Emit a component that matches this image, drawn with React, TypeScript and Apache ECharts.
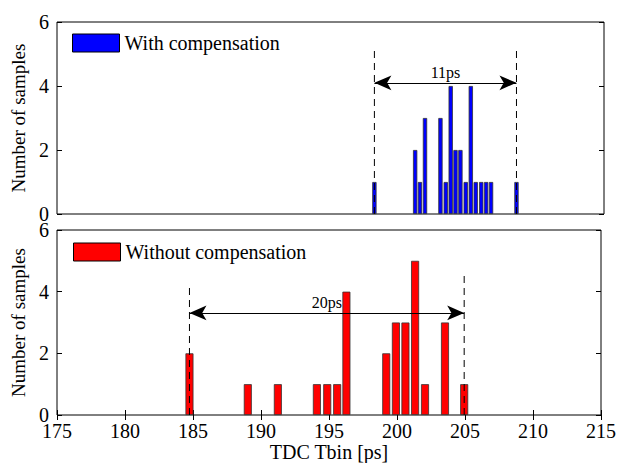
import React, { useEffect, useRef } from "react";
import * as echarts from "echarts";

// ---- Data ----
const topBinCenters = [198.21, 201.19, 201.54, 201.91, 203.04, 203.43, 203.79, 204.14, 204.5, 204.89, 205.26, 205.62, 206.02, 206.38, 206.74, 208.6];
const topCounts = [1, 2, 1, 3, 3, 1, 4, 2, 2, 1, 4, 1, 1, 1, 1, 1];

const bottomBinCenters = [184.74, 189.03, 191.24, 194.11, 194.87, 195.6, 196.28, 199.21, 199.92, 200.62, 201.33, 202.06, 203.53, 204.94];
const bottomCounts = [2, 1, 1, 1, 1, 1, 4, 2, 3, 3, 5, 1, 3, 1];

const topSpan = [198.21, 208.6];
const topDashTops = [5.2, 5.2];
const topArrowY = 4.1;
const topSpanLabel = "11ps";

const bottomSpan = [184.74, 204.94];
const bottomDashTops = [4.15, 4.64];
const bottomArrowY = 3.31;
const bottomSpanLabel = "20ps";

const xTicks = { min: 175, max: 215, interval: 5 };
const yTicks = { min: 0, max: 6, interval: 2 };

const topLegend = "With compensation";
const bottomLegend = "Without compensation";
const yName = "Number of samples";
const xName = "TDC Tbin [ps]";

const FONT = "'Liberation Serif', 'Times New Roman', serif";

function zip(xs: number[], ys: number[]) {
  return xs.map((x, i) => [x, ys[i]]);
}

function buildOption() {
  const tickStyle = { show: true, inside: true, length: 5, lineStyle: { color: "#000", width: 1 } };
  const dashStyle = { color: "#000", width: 1, type: [7, 5] as any };
  const dashSeries = (xs: number[], tops: number[], xi: number, yi: number) =>
    xs.map((x, i) => ({
      type: "line",
      xAxisIndex: xi,
      yAxisIndex: yi,
      data: [[x, 0], [x, tops[i]]],
      showSymbol: false,
      symbol: "none",
      silent: true,
      z: 5,
      lineStyle: dashStyle,
    }));
  const arrowMark = (span: number[], y: number, label: string) => ({
    silent: true,
    symbol: ["arrow", "arrow"],
    symbolSize: [11, 17],
    lineStyle: { color: "#000", width: 1, type: "solid" },
    label: { show: true, position: "middle", formatter: label, color: "#000", fontFamily: FONT, fontSize: 16, distance: 2 },
    emphasis: { disabled: true },
    data: [[{ coord: [span[0], y] }, { coord: [span[1], y] }]],
  });
  const legendBase = {
    icon: "rect",
    itemWidth: 47,
    itemHeight: 18,
    itemGap: 5,
    padding: 0,
    selectedMode: false,
    itemStyle: { borderColor: "#000", borderWidth: 1 },
    textStyle: { fontFamily: FONT, fontSize: 20, color: "#000" },
  };

  return {
    animation: false,
    textStyle: { fontFamily: FONT, color: "#000" },
    legend: [
      { ...legendBase, data: [topLegend], left: 72, top: 33 },
      { ...legendBase, data: [bottomLegend], left: 73, top: 242 },
    ],
    grid: [
      { left: 57, right: 15, top: 22, height: 192, show: true, borderColor: "#000", borderWidth: 1, backgroundColor: "transparent" },
      { left: 57, right: 15, top: 230, height: 185, show: true, borderColor: "#000", borderWidth: 1, backgroundColor: "transparent" },
    ],
    xAxis: [
      {
        type: "value", gridIndex: 0, ...xTicks,
        axisLine: { show: false }, axisTick: { show: false }, axisLabel: { show: false }, splitLine: { show: false },
      },
      {
        type: "value", gridIndex: 1, position: "bottom", ...xTicks,
        axisLine: { show: false }, axisTick: tickStyle, splitLine: { show: false },
        axisLabel: { fontFamily: FONT, fontSize: 20, color: "#000", margin: 6 },
        name: xName, nameLocation: "middle", nameGap: 26,
        nameTextStyle: { fontFamily: FONT, fontSize: 20, color: "#000" },
      },
      {
        type: "value", gridIndex: 1, position: "top", ...xTicks,
        axisLine: { show: false }, axisTick: tickStyle, axisLabel: { show: false }, splitLine: { show: false },
      },
    ],
    yAxis: [
      {
        type: "value", gridIndex: 0, position: "left", ...yTicks,
        axisLine: { show: false }, axisTick: tickStyle, splitLine: { show: false },
        axisLabel: { fontFamily: FONT, fontSize: 20, color: "#000", margin: 8 },
        name: yName, nameLocation: "middle", nameGap: 26, nameRotate: 90,
        nameTextStyle: { fontFamily: FONT, fontSize: 19, color: "#000" },
      },
      {
        type: "value", gridIndex: 0, position: "right", ...yTicks,
        axisLine: { show: false }, axisTick: tickStyle, axisLabel: { show: false }, splitLine: { show: false },
      },
      {
        type: "value", gridIndex: 1, position: "left", ...yTicks,
        axisLine: { show: false }, axisTick: tickStyle, splitLine: { show: false },
        axisLabel: { fontFamily: FONT, fontSize: 20, color: "#000", margin: 8 },
        name: yName, nameLocation: "middle", nameGap: 26, nameRotate: 90,
        nameTextStyle: { fontFamily: FONT, fontSize: 19, color: "#000" },
      },
      {
        type: "value", gridIndex: 1, position: "right", ...yTicks,
        axisLine: { show: false }, axisTick: tickStyle, axisLabel: { show: false }, splitLine: { show: false },
      },
    ],
    series: [
      {
        name: topLegend,
        type: "bar",
        xAxisIndex: 0,
        yAxisIndex: 0,
        barWidth: 4.3,
        data: zip(topBinCenters, topCounts),
        itemStyle: { color: "#0000ff", borderColor: "#333", borderWidth: 0.8 },
        markLine: arrowMark(topSpan, topArrowY, topSpanLabel),
      },
      {
        name: bottomLegend,
        type: "bar",
        xAxisIndex: 1,
        yAxisIndex: 2,
        barWidth: 8,
        data: zip(bottomBinCenters, bottomCounts),
        itemStyle: { color: "#ff0000", borderColor: "#333", borderWidth: 0.8 },
        markLine: arrowMark(bottomSpan, bottomArrowY, bottomSpanLabel),
      },
      ...dashSeries(topSpan, topDashTops, 0, 0),
      ...dashSeries(bottomSpan, bottomDashTops, 1, 2),
    ],
  };
}

export default function App() {
  const ref = useRef<HTMLDivElement>(null);
  useEffect(() => {
    if (!ref.current) return;
    const chart = echarts.init(ref.current, null, { renderer: "svg" });
    chart.setOption(buildOption() as any);
    return () => chart.dispose();
  }, []);
  return (
    <div
      ref={ref}
      style={{ position: "fixed", left: 0, top: 0, width: 619, height: 463, background: "#fff" }}
    />
  );
}
